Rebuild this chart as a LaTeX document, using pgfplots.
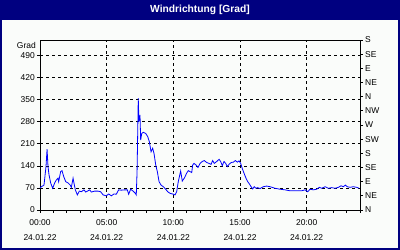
\documentclass[border=0pt]{standalone}
\usepackage{pgfplots}
\pgfplotsset{compat=1.18}
\usepackage{fontspec}
\setmainfont{Liberation Sans}
\definecolor{navy}{RGB}{0,0,128}
\definecolor{bgc}{RGB}{250,252,250}
\definecolor{lineblue}{RGB}{0,0,255}
\begin{document}
\begin{tikzpicture}[x=1bp,y=1bp]
\fill[navy] (0,0) rectangle (400,250);
\fill[bgc] (2,2) rectangle (398,230);
\node[text=white, font=\fontsize{10.3}{12}\selectfont\bfseries] at (200,240.5) {Windrichtung [Grad]};
\node[anchor=base east, font=\fontsize{8.5}{9}\selectfont, inner sep=0pt] at (36,202) {Grad};
\begin{axis}[
  at={(40bp,40bp)}, anchor=south west, scale only axis,
  width=320bp, height=170bp,
  xmin=0, xmax=24, ymin=0, ymax=540,
  xtick={0,5,10,15,20},
  xticklabels={{00:00\\24.01.22},{05:00\\24.01.22},{10:00\\24.01.22},{15:00\\24.01.22},{20:00\\24.01.22}},
  minor xtick={1,2,3,4,6,7,8,9,11,12,13,14,16,17,18,19,21,22,23,24},
  ytick={0,70,140,210,280,350,420,490},
  yticklabels={0,70,140,210,280,350,420,490},
  xticklabel style={align=center, font=\fontsize{8.5}{15}\selectfont, inner sep=2bp, yshift=-4.5bp},
  yticklabel style={font=\fontsize{8.5}{9}\selectfont, inner sep=2bp},
  tick align=outside, major tick length=3bp, minor tick length=3bp,
  xtick pos=bottom, ytick pos=left,
  grid=major,
  major grid style={black, dash pattern=on 3bp off 3bp, line width=0.8bp},
  axis line style={black, line width=0.8bp},
  every tick/.style={black, line width=0.8bp},
  every minor tick/.style={black, line width=0.8bp},
]
\addplot[lineblue, line width=0.8bp] coordinates {
(0.00,70) (0.10,74) (0.30,79) (0.45,138) (0.53,193) (0.60,138) (0.68,111) (0.80,86)
(0.95,69) (1.10,86) (1.22,95) (1.35,101) (1.40,90) (1.55,122) (1.65,125) (1.78,106)
(1.93,90) (2.10,86) (2.27,79) (2.35,72) (2.48,101) (2.55,85) (2.65,64) (2.80,48)
(2.95,60) (3.10,58) (3.30,64) (3.43,57) (3.60,61) (3.73,64) (3.85,57) (4.10,60)
(4.35,60) (4.55,58) (4.73,48) (4.97,45) (5.15,51) (5.35,45) (5.55,51) (5.72,50)
(5.90,64) (6.10,63) (6.35,64) (6.55,64) (6.65,50) (6.80,66) (6.98,60) (7.15,53)
(7.22,48) (7.28,121) (7.37,355) (7.42,281) (7.50,302) (7.55,222) (7.63,243) (7.75,247)
(7.93,243) (8.08,233) (8.20,217) (8.33,185) (8.45,196) (8.55,180) (8.68,143) (8.80,122)
(8.93,90) (9.08,79) (9.25,74) (9.43,66) (9.58,58) (9.75,53) (9.93,51) (10.13,48)
(10.25,58) (10.37,90) (10.55,124) (10.67,92) (10.82,101) (10.88,106) (11.00,117) (11.12,125)
(11.25,122) (11.38,119) (11.45,143) (11.55,148) (11.70,143) (11.85,135) (12.00,148) (12.17,154)
(12.32,157) (12.50,151) (12.68,148) (12.83,145) (12.95,157) (13.07,148) (13.25,154) (13.43,161)
(13.55,154) (13.67,141) (13.80,154) (13.93,148) (14.05,138) (14.20,146) (14.35,151) (14.50,152)
(14.65,157) (14.80,152) (14.93,156) (15.05,148) (15.17,132) (15.30,117) (15.45,101) (15.58,90)
(15.70,83) (15.83,74) (15.95,67) (16.07,74) (16.20,69) (16.33,71) (16.50,68) (16.75,74)
(17.00,76) (17.25,74) (17.63,69) (18.00,66) (18.38,64) (18.75,61) (19.25,61) (19.63,61)
(19.88,64) (20.08,58) (20.25,66) (20.50,64) (20.75,66) (20.95,72) (21.13,69) (21.38,74)
(21.63,69) (21.88,71) (22.13,69) (22.38,72) (22.58,77) (22.75,74) (22.90,79) (23.05,74)
(23.25,72) (23.50,74) (23.75,72) (23.93,69)
};
\end{axis}
\begin{axis}[
  at={(40bp,40bp)}, anchor=south west, scale only axis,
  width=320bp, height=170bp,
  xmin=0, xmax=24, ymin=0, ymax=540,
  axis x line=none, axis y line*=right,
  ytick={0,45,90,135,180,225,270,315,360,405,450,495,540},
  yticklabels={N,NE,E,SE,S,SW,W,NW,N,NE,E,SE,S},
  yticklabel style={font=\fontsize{8.5}{9}\selectfont, inner sep=2bp},
  tick align=outside, major tick length=3bp,
  axis line style={black, line width=0.8bp, -},
  every tick/.style={black, line width=0.8bp},
]
\end{axis}
\end{tikzpicture}
\end{document}
